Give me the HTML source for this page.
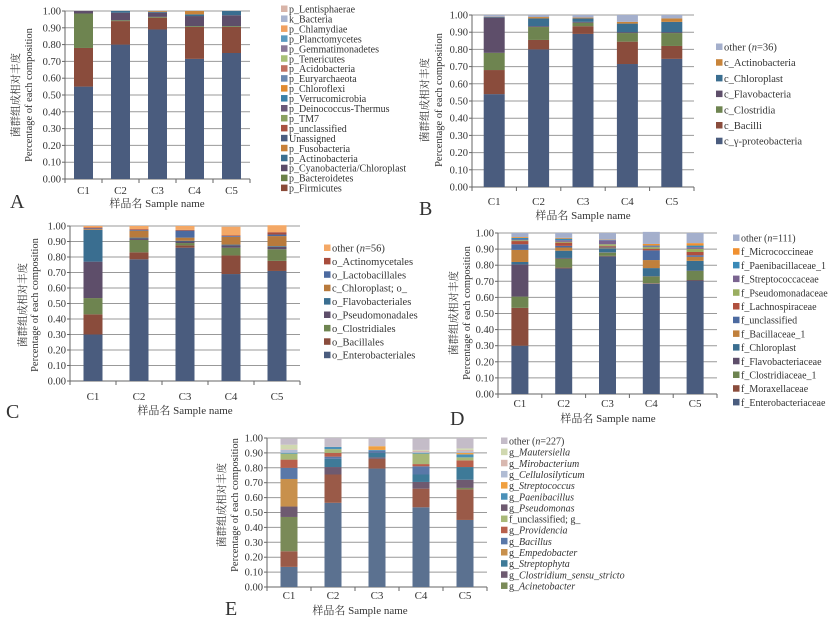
<!DOCTYPE html>
<html><head><meta charset="utf-8">
<style>
html,body{margin:0;padding:0;background:#fff;}
svg{display:block;}
text{font-family:"Liberation Serif","Noto Serif CJK SC",serif;fill:#333;}
</style></head>
<body>
<svg id="fig" width="835" height="624" viewBox="0 0 835 624" xmlns="http://www.w3.org/2000/svg"></svg>
<script>
// ---------- shared data ----------
const categories = ['C1','C2','C3','C4','C5'];
const yTicks = ['0.00','0.10','0.20','0.30','0.40','0.50','0.60','0.70','0.80','0.90','1.00'];

// Panel A (phylum)
const aProteo   = [0.55,0.80,0.89,0.715,0.75];
const aFirm     = [0.23,0.14,0.07,0.19,0.155];
const aBacter   = [0.205,0.005,0.005,0.005,0.005];
const aCyano    = [0.015,0.045,0.025,0.06,0.065];
const aActino   = [0,0.01,0.005,0.01,0.025];
const aFuso     = [0,0,0.005,0.02,0];

// Panel B (class)
const bGamma    = [0.54,0.80,0.89,0.715,0.745];
const bBacilli  = [0.14,0.055,0.045,0.13,0.075];
const bClost    = [0.10,0.075,0.02,0.05,0.075];
const bFlavo    = [0.205,0.005,0.005,0.005,0.005];
const bChloro   = [0.003,0.045,0.02,0.05,0.06];
const bActino   = [0.002,0.008,0.005,0.01,0.02];
const bOther    = [0.01,0.012,0.015,0.04,0.02];

// Panel C (order)
const cEntero   = [0.30,0.785,0.86,0.69,0.71];
const cBacill   = [0.13,0.045,0.015,0.12,0.065];
const cClost    = [0.105,0.08,0.015,0.05,0.075];
const cPseudo   = [0.235,0.01,0.01,0.015,0.015];
const cFlavo    = [0.205,0.005,0.005,0.005,0.005];
const cChloro   = [0.005,0.045,0.02,0.05,0.065];
const cLacto    = [0.005,0.005,0.045,0.005,0.01];
const cActino   = [0.005,0.005,0.005,0.005,0.015];
const cOther    = [0.01,0.02,0.025,0.055,0.045];

// Panel D (family)
const dEntero   = [0.30,0.78,0.855,0.685,0.705];
const dMorax    = [0.235,0.005,0.003,0.003,0.003];
const dClost    = [0.07,0.055,0.02,0.042,0.057];
const dFlavo    = [0.20,0.005,0.002,0.002,0.002];
const dChloro   = [0.015,0.045,0.025,0.05,0.06];
const dBacill   = [0.075,0.02,0.005,0.05,0.025];
const dUncl     = [0.035,0.01,0.005,0.06,0.01];
const dLachno   = [0.02,0.02,0.005,0.01,0.02];
const dPseudo   = [0.005,0.005,0.01,0.01,0.02];
const dStrep    = [0.005,0.01,0.025,0.005,0.01];
const dPaeni    = [0.01,0.01,0.003,0.005,0.01];
const dMicro    = [0.005,0.005,0.002,0.01,0.015];
const dOther    = [0.025,0.03,0.04,0.075,0.063];

// Panel E (genus)
const eEnterob  = [0.135,0.565,0.795,0.535,0.45];
const eProvBase = [0.105,0.19,0.065,0.125,0.205];
const eAcineto  = [0.23,0,0,0,0.01];
const eClostr   = [0.07,0.05,0.01,0.045,0.055];
const eStrepto  = [0,0.055,0.03,0.05,0.085];
const eEmpedo   = [0.185,0,0,0,0];
const eBacillus = [0.075,0.015,0.015,0.055,0];
const eProvid   = [0.055,0.025,0,0.015,0.045];
const eFuncl    = [0.04,0.025,0,0.07,0.02];
const ePaeni    = [0.005,0.015,0.005,0.005,0.02];
const eStrepC   = [0,0,0.025,0,0.01];
const eCellu    = [0.02,0,0,0.005,0.01];
const eMirob    = [0.005,0,0,0.01,0.01];
const eMauter   = [0.03,0,0,0.005,0.01];
const eOther    = [0.04,0.06,0.055,0.075,0.07];

// ---------- drawing ----------
const NS = 'http://www.w3.org/2000/svg';
const svg = document.getElementById('fig');
function mk(tag, attrs, parent){
  const e = document.createElementNS(NS, tag);
  for (const k in attrs) e.setAttribute(k, attrs[k]);
  (parent||svg).appendChild(e);
  return e;
}

const panels = [
 {id:'a', letter:'A', lx:10, ly:208, x0:65, xr:250, yt:11, yb:179, bw:19, tickY:194, snx:157, sny:207,
  cn:{x:19, y:95}, en:{x:32, y:95},
  series:[[aProteo,'#4a5c7e'],[aFirm,'#8a4c3c'],[aBacter,'#6e8450'],[aCyano,'#5e4e6a'],[aActino,'#3a6e90'],[aFuso,'#c8843a']],
  legend:{x:281, y:9, dy:9.95, fs:10, items:[
   ['p_Lentisphaerae','#d8b4a8'],['k_Bacteria','#a8b4d0'],['p_Chlamydiae','#f0a060'],['p_Planctomycetes','#5a9ac0'],
   ['p_Gemmatimonadetes','#8a7898'],['p_Tenericutes','#a8c078'],['p_Acidobacteria','#c07060'],['p_Euryarchaeota','#6a88b0'],
   ['p_Chloroflexi','#e08a30'],['p_Verrucomicrobia','#3a80a8'],['p_Deinococcus-Thermus','#6a5878'],['p_TM7','#8aa060'],
   ['p_unclassified','#a85040'],['Unassigned','#4a5c80'],['p_Fusobacteria','#c88038'],['p_Actinobacteria','#3a6e90'],
   ['p_Cyanobacteria/Chloroplast','#5a4a68'],['p_Bacteroidetes','#6a8048'],['p_Firmicutes','#8a4a38']]}},
 {id:'b', letter:'B', lx:419, ly:215, x0:472, xr:694, yt:15, yb:187, bw:21, tickY:205, snx:583, sny:219,
  cn:{x:428, y:100}, en:{x:442, y:100},
  series:[[bGamma,'#4a5c7e'],[bBacilli,'#8a4c3c'],[bClost,'#6e8450'],[bFlavo,'#5e4e6a'],[bChloro,'#3a6e90'],[bActino,'#c8843a'],[bOther,'#a4afcc']],
  legend:{x:716, y:47, dy:15.7, fs:10.5, items:[
   ['other (n=36)','#a4afcc'],['c_Actinobacteria','#c8843a'],['c_Chloroplast','#3a6e90'],['c_Flavobacteria','#5e4e6a'],
   ['c_Clostridia','#6e8450'],['c_Bacilli','#8a4c3c'],['c_γ-proteobacteria','#4a5c7e']]}},
 {id:'c', letter:'C', lx:6, ly:418, x0:70, xr:300, yt:226, yb:381, bw:19, tickY:400, snx:185, sny:414,
  cn:{x:26, y:305}, en:{x:38, y:305},
  series:[[cEntero,'#4a5c7e'],[cBacill,'#8a4c3c'],[cClost,'#6e8450'],[cPseudo,'#5e4e6a'],[cFlavo,'#3a6e90'],[cChloro,'#b87a3c'],[cLacto,'#4c6aa0'],[cActino,'#a84c3c'],[cOther,'#f4a866']],
  legend:{x:324, y:248, dy:13.4, fs:10.5, items:[
   ['other (n=56)','#f4a866'],['o_Actinomycetales','#a84c3c'],['o_Lactobacillales','#4c6aa0'],['c_Chloroplast; o_','#b87a3c'],
   ['o_Flavobacteriales','#3a6e90'],['o_Pseudomonadales','#5e4e6a'],['o_Clostridiales','#6e8450'],['o_Bacillales','#8a4c3c'],['o_Enterobacteriales','#4a5c7e']]}},
 {id:'d', letter:'D', lx:450, ly:425, x0:498, xr:717, yt:233, yb:394, bw:17, tickY:407, snx:608, sny:422,
  cn:{x:457, y:313}, en:{x:470, y:313},
  series:[[dEntero,'#4a5c7e'],[dMorax,'#8a4c3c'],[dClost,'#6e8450'],[dFlavo,'#5e4e6a'],[dChloro,'#3a6e90'],[dBacill,'#c0803c'],[dUncl,'#4c6aa0'],[dLachno,'#b0503e'],[dPseudo,'#9aae60'],[dStrep,'#7a6490'],[dPaeni,'#3a8ab8'],[dMicro,'#f09030'],[dOther,'#a4afcc']],
  legend:{x:733, y:238, dy:13.7, fs:10, items:[
   ['other (n=111)','#a4afcc'],['f_Micrococcineae','#f09030'],['f_Paenibacillaceae_1','#3a8ab8'],['f_Streptococcaceae','#7a6490'],
   ['f_Pseudomonadaceae','#9aae60'],['f_Lachnospiraceae','#b0503e'],['f_unclassified','#4c6aa0'],['f_Bacillaceae_1','#c0803c'],
   ['f_Chloroplast','#3a6e90'],['f_Flavobacteriaceae','#5e4e6a'],['f_Clostridiaceae_1','#6e8450'],['f_Moraxellaceae','#8a4c3c'],['f_Enterobacteriaceae','#4a5c7e']]}},
 {id:'e', letter:'E', lx:225, ly:615, x0:267, xr:487, yt:438, yb:587, bw:17, tickY:599, snx:360, sny:614,
  cn:{x:225, y:505}, en:{x:238, y:505},
  series:[[eEnterob,'#5b7190'],[eProvBase,'#9a5a48'],[eAcineto,'#7a8a58'],[eClostr,'#6e5a70'],[eStrepto,'#3e7a98'],[eEmpedo,'#c8904c'],[eBacillus,'#5a78a8'],[eProvid,'#b8604c'],[eFuncl,'#a8b878'],[ePaeni,'#4a90b8'],[eStrepC,'#f0a040'],[eCellu,'#b0bcd4'],[eMirob,'#d8b8b0'],[eMauter,'#d0d8b0'],[eOther,'#c4bcc8']],
  legend:{x:501, y:441, dy:11.15, fs:10, items:[
   ['other (n=227)','#c4bcc8'],['g_Mautersiella','#d0d8b0',1],['g_Mirobacterium','#d8b8b0',1],['g_Cellulosilyticum','#b0bcd4',1],
   ['g_Streptococcus','#f0a040',1],['g_Paenibacillus','#4a90b8',1],['g_Pseudomonas','#6e5a70',1],['f_unclassified; g_','#a8b878'],
   ['g_Providencia','#b8604c',1],['g_Bacillus','#5a78a8',1],['g_Empedobacter','#c8904c',1],['g_Streptophyta','#3e7a98',1],
   ['g_Clostridium_sensu_stricto','#6e5a70',1],['g_Acinetobacter','#7a8a58',1]]}}
];

panels.forEach(p => {
  const g = mk('g', {});
  
  
  const yScale = v => p.yb - v * (p.yb - p.yt);
  const band = (p.xr - p.x0) / categories.length;
  const xCenter = i => p.x0 + band * (i + 0.5);

  yTicks.forEach((t, i) => {
    const v = parseFloat(t);
    const y = yScale(v);
    const gl = mk('line', {x1:p.x0, x2:p.xr, y1:y, y2:y, stroke: i===0 ? '#666' : '#999', 'stroke-width':1}, g);
    
    
    mk('line', {x1:p.x0-3, x2:p.x0, y1:y, y2:y, stroke:'#666'}, g);
    const tl = mk('text', {x:p.x0-4, y:y+3.5, 'font-size':10.5, 'text-anchor':'end'}, g);
    tl.textContent = t;
    
    
  });
  const ax = mk('line', {x1:p.x0, x2:p.x0, y1:p.yt, y2:p.yb, stroke:'#666'}, g);
  
  

  categories.forEach((c, i) => {
    let acc = 0;
    p.series.forEach((s, si) => {
      const v = s[0][i];
      if (v > 0) {
        const r = mk('rect', {x: xCenter(i) - p.bw/2, y: yScale(acc + v), width: p.bw, height: yScale(acc) - yScale(acc + v), fill: s[1]}, g);
        
        
      }
      acc += v;
    });
    const tl = mk('text', {x:xCenter(i), y:p.tickY, 'font-size':11, 'text-anchor':'middle'}, g);
    tl.textContent = c;
    
    
  });
  for (let i = 0; i <= categories.length; i++) {
    mk('line', {x1:p.x0+band*i, x2:p.x0+band*i, y1:p.yb, y2:p.yb+4, stroke:'#666'}, g);
  }

  const cn = mk('text', {x:p.cn.x, y:p.cn.y, 'font-size':10.5, 'text-anchor':'middle', transform:`rotate(-90 ${p.cn.x} ${p.cn.y})`, fill:'#555'}, g);
  cn.textContent = '菌群组成相对丰度';
  
  
  const en = mk('text', {x:p.en.x, y:p.en.y, 'font-size':10.5, 'text-anchor':'middle', transform:`rotate(-90 ${p.en.x} ${p.en.y})`}, g);
  en.textContent = 'Percentage of each composition';
  
  
  const sn = mk('text', {x:p.snx, y:p.sny, 'font-size':11, 'text-anchor':'middle'}, g);
  sn.textContent = '样品名 Sample name';
  
  
  const lt = mk('text', {x:p.lx, y:p.ly, 'font-size':20}, g);
  lt.textContent = p.letter;
  
  

  p.legend.items.forEach((it, k) => {
    const y = p.legend.y + k * p.legend.dy;
    const sq = mk('rect', {x:p.legend.x, y:y-3.5, width:6.5, height:6.5, fill:it[1]}, g);
    
    
    const t = mk('text', {x:p.legend.x+8, y:y+3.5, 'font-size':p.legend.fs}, g);
    
    
    const name = it[0];
    const m = name.match(/^(other \()n(=\d+\))$/);
    if (m) {
      t.appendChild(document.createTextNode(m[1]));
      const ts = mk('tspan', {'font-style':'italic'}, t); ts.textContent = 'n';
      t.appendChild(document.createTextNode(m[2]));
    } else if (it[2]) {
      t.appendChild(document.createTextNode(name.slice(0,2)));
      const ts = mk('tspan', {'font-style':'italic'}, t); ts.textContent = name.slice(2);
    } else {
      t.textContent = name;
    }
  });
});
</script>
</body></html>
